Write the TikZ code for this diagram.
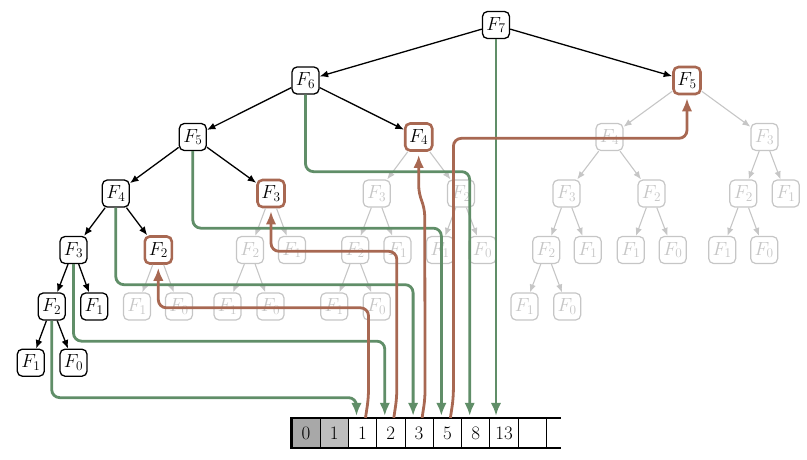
\RequirePackage{fix-cm}
\documentclass[tikz,border=0pt]{standalone}
\usepackage{amsmath}
\usepackage{color}
\usepackage{tikz}
\usetikzlibrary{arrows.meta}
\definecolor{fibgreen}{RGB}{96,142,104}
\definecolor{fibbrown}{RGB}{168,104,82}
\definecolor{fibgray}{RGB}{198,198,198}
\definecolor{seeddark}{RGB}{168,168,168}
\definecolor{seedlight}{RGB}{190,190,190}
\tikzstyle{o}     = [draw, rounded corners=5pt, minimum size=27pt, inner sep=0pt, line width=1.3pt, fill=white, font=\fontsize{19}{22}\selectfont]
\tikzstyle{memo}  = [o, draw=fibbrown, line width=2.6pt]
\tikzstyle{gone}  = [o, draw=fibgray, text=fibgray, line width=1.2pt]
\tikzstyle{cell}  = [draw, minimum width=28.3pt, minimum height=29.4pt, inner sep=0pt, line width=0.9pt, font=\fontsize{19}{22}\selectfont]
\tikzstyle{tape}  = [draw, line width=2.4pt]
\tikzstyle{call}  = [draw, -{Latex[length=8.5pt, width=7pt]}, line width=1.3pt]
\tikzstyle{dead}  = [draw, -{Latex[length=8pt, width=6.5pt]}, line width=1.1pt, fibgray]
\tikzstyle{store} = [draw, -{Latex[length=13pt, width=10.5pt]}, line width=2.8pt, fibgreen, rounded corners=8pt, shorten >=2pt]
\tikzstyle{fetch} = [draw, -{Latex[length=13pt, width=10.5pt]}, line width=2.8pt, fibbrown, rounded corners=8pt, shorten >=3pt]

\begin{document}
\begin{tikzpicture}[auto, x=1pt, y=-1pt]

\useasboundingbox (0,0) rectangle (807,459);

% nodes
\node [o]    at ( 496.0 ,  25.0 ) (f7)     {$F_7$};
\node [o]    at ( 305.5 ,  80.5 ) (f6)     {$F_6$};
\node [memo] at ( 687.0 ,  80.5 ) (m5)     {$F_5$};
\node [o]    at ( 192.8 , 137.0 ) (f5)     {$F_5$};
\node [memo] at ( 418.7 , 137.0 ) (m4)     {$F_4$};
\node [o]    at ( 115.8 , 193.5 ) (f4)     {$F_4$};
\node [memo] at ( 271.0 , 193.5 ) (m3)     {$F_3$};
\node [o]    at (  73.5 , 250.0 ) (f3)     {$F_3$};
\node [memo] at ( 158.3 , 250.0 ) (m2)     {$F_2$};
\node [o]    at (  51.7 , 306.5 ) (f2)     {$F_2$};
\node [o]    at (  94.2 , 306.5 ) (f1b)    {$F_1$};
\node [o]    at (  30.8 , 362.7 ) (f1)     {$F_1$};
\node [o]    at (  73.5 , 362.7 ) (f0)     {$F_0$};

% skipped calls
\node [gone] at ( 137.0 , 306.5 ) (g21)    {$F_1$};
\node [gone] at ( 179.0 , 306.5 ) (g20)    {$F_0$};

\node [gone] at ( 250.0 , 250.0 ) (g32)    {$F_2$};
\node [gone] at ( 292.0 , 250.0 ) (g31)    {$F_1$};
\node [gone] at ( 227.5 , 306.5 ) (g321)   {$F_1$};
\node [gone] at ( 270.5 , 306.5 ) (g320)   {$F_0$};

\node [gone] at ( 376.7 , 193.5 ) (g43)    {$F_3$};
\node [gone] at ( 461.0 , 193.5 ) (g42)    {$F_2$};
\node [gone] at ( 355.2 , 250.0 ) (g432)   {$F_2$};
\node [gone] at ( 397.5 , 250.0 ) (g431)   {$F_1$};
\node [gone] at ( 334.2 , 306.5 ) (g4321)  {$F_1$};
\node [gone] at ( 376.7 , 306.5 ) (g4320)  {$F_0$};
\node [gone] at ( 440.0 , 250.0 ) (g421)   {$F_1$};
\node [gone] at ( 482.5 , 250.0 ) (g420)   {$F_0$};

\node [gone] at ( 609.5 , 137.0 ) (g54)    {$F_4$};
\node [gone] at ( 764.5 , 137.0 ) (g53)    {$F_3$};
\node [gone] at ( 566.5 , 193.5 ) (g543)   {$F_3$};
\node [gone] at ( 651.5 , 193.5 ) (g542)   {$F_2$};
\node [gone] at ( 546.2 , 250.0 ) (g5432)  {$F_2$};
\node [gone] at ( 587.8 , 250.0 ) (g5431)  {$F_1$};
\node [gone] at ( 524.5 , 306.5 ) (g54321) {$F_1$};
\node [gone] at ( 567.2 , 306.5 ) (g54320) {$F_0$};
\node [gone] at ( 630.8 , 250.0 ) (g5421)  {$F_1$};
\node [gone] at ( 672.8 , 250.0 ) (g5420)  {$F_0$};
\node [gone] at ( 743.3 , 193.5 ) (g532)   {$F_2$};
\node [gone] at ( 785.8 , 193.5 ) (g531)   {$F_1$};
\node [gone] at ( 722.2 , 250.0 ) (g5321)  {$F_1$};
\node [gone] at ( 764.2 , 250.0 ) (g5320)  {$F_0$};

% table
\node [cell, fill=seeddark]  at ( 305.9 , 433.0 ) (c0) {0};
\node [cell, fill=seedlight] at ( 334.2 , 433.0 ) (c1) {1};
\node [cell]                 at ( 362.5 , 433.0 ) (c2) {1};
\node [cell]                 at ( 390.8 , 433.0 ) (c3) {2};
\node [cell]                 at ( 419.1 , 433.0 ) (c4) {3};
\node [cell]                 at ( 447.4 , 433.0 ) (c5) {5};
\node [cell]                 at ( 475.7 , 433.0 ) (c6) {8};
\node [cell]                 at ( 504.0 , 433.0 ) (c7) {13};
\node [cell]                 at ( 532.3 , 433.0 ) (c8) {};
\draw [tape] ([xshift=14pt]c8.north east) -- (c0.north west) -- (c0.south west) -- ([xshift=14pt]c8.south east);

% edges
\path [dead]
  (m2)   edge (g21)   (m2)   edge (g20)
  (m3)   edge (g32)   (m3)   edge (g31)
  (g32)  edge (g321)  (g32)  edge (g320)
  (m4)   edge (g43)   (m4)   edge (g42)
  (g43)  edge (g432)  (g43)  edge (g431)
  (g432) edge (g4321) (g432) edge (g4320)
  (g42)  edge (g421)  (g42)  edge (g420)
  (m5)   edge (g54)   (m5)   edge (g53)
  (g54)  edge (g543)  (g54)  edge (g542)
  (g543) edge (g5432) (g543) edge (g5431)
  (g5432) edge (g54321) (g5432) edge (g54320)
  (g542) edge (g5421) (g542) edge (g5420)
  (g53)  edge (g532)  (g53)  edge (g531)
  (g532) edge (g5321) (g532) edge (g5320);

\path [call]
  (f7) edge (f6)  (f7) edge (m5)
  (f6) edge (f5)  (f6) edge (m4)
  (f5) edge (f4)  (f5) edge (m3)
  (f4) edge (f3)  (f4) edge (m2)
  (f3) edge (f2)  (f3) edge (f1b)
  (f2) edge (f1)  (f2) edge (f0);

% writes into the table
\draw [store] (f2.south) -- ([yshift=-77pt]f2.south) -| ([xshift=-6pt]c2.north);
\draw [store] (f3.south) -- ([yshift=-77pt]f3.south) -| ([xshift=-6pt]c3.north);
\draw [store] (f4.south) -- ([yshift=-77pt]f4.south) -| ([xshift=-6pt]c4.north);
\draw [store] (f5.south) -- ([yshift=-77pt]f5.south) -| ([xshift=-6pt]c5.north);
\draw [store] (f6.south) -- ([yshift=-77pt]f6.south) -| ([xshift=-6pt]c6.north);
\draw [store] (f7.south) -- (f7.south |- c7.north);

% reads from the table
\draw [fetch] ([xshift=3pt]c2.north) -- ([xshift=6pt, yshift=20pt]c2.north) |- ([yshift=-43pt]m2.south) -- (m2.south);
\draw [fetch] ([xshift=3pt]c3.north) -- ([xshift=6pt, yshift=20pt]c3.north) |- ([yshift=-43pt]m3.south) -- (m3.south);
\draw [fetch] ([xshift=3pt]c4.north) -- ([xshift=6pt, yshift=20pt]c4.north) -- ([xshift=6pt, yshift=-56pt]m4.south) -- ([yshift=-42pt]m4.south) -- (m4.south);
\draw [fetch] ([xshift=3pt]c5.north) -- ([xshift=6pt, yshift=20pt]c5.north) |- ([yshift=-43pt]m5.south) -- (m5.south);

\end{tikzpicture}
\end{document}
